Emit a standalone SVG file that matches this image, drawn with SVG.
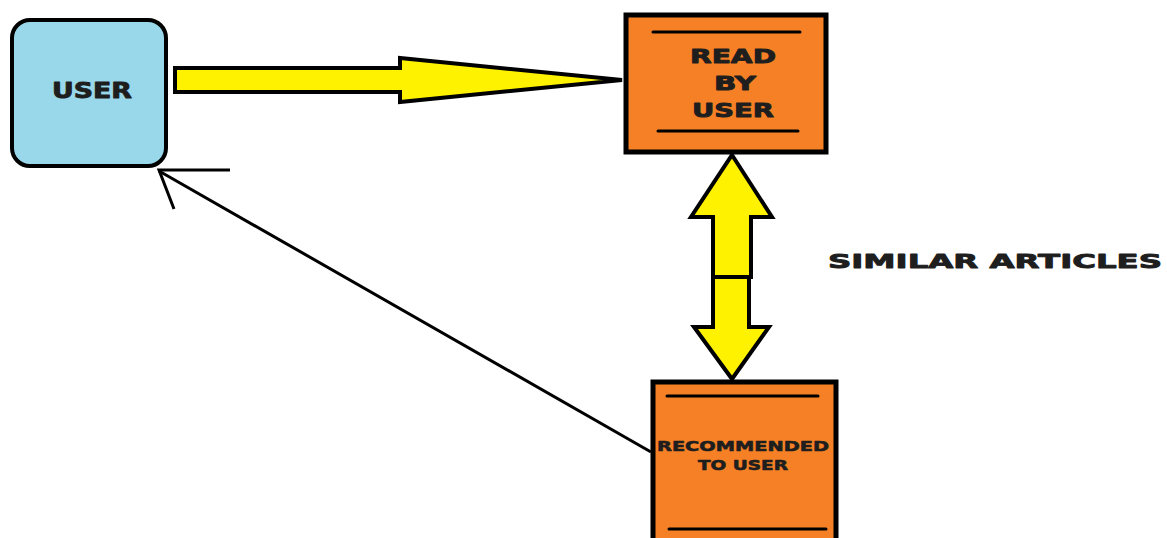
<svg xmlns="http://www.w3.org/2000/svg" width="1167" height="538" viewBox="0 0 1167 538">
<style>
.lbl{font-family:"DejaVu Sans","Liberation Sans",sans-serif;font-weight:bold;fill:#1e1e1e;text-anchor:middle;stroke:#1e1e1e;stroke-width:0.9;stroke-linejoin:round;}
.box{fill:#F58025;stroke:#000;stroke-width:5;}
.bar{stroke:#000;stroke-width:3;stroke-linecap:round;}
.yel{fill:#FFF200;stroke:#000;stroke-width:4;stroke-linejoin:miter;}
</style>
<rect width="1167" height="538" fill="#ffffff"/>
<g id="connectors">
<path class="yel" d="M175,68 L400,68 L400,58 L622,80 L400,102 L400,92 L175,92 Z"/>
<path class="yel" d="M732,155 L772,217 L751,217 L751,277 L713,277 L713,217 L691,217 Z"/>
<path class="yel" d="M713,277 L749,277 L749,327 L769,327 L732,379 L694,327 L713,327 Z"/>
<line x1="651" y1="452" x2="159" y2="171" stroke="#000" stroke-width="3"/>
<polyline points="230,170 159,170 174,209" fill="none" stroke="#000" stroke-width="3"/>
</g>
<g id="user">
<rect x="12" y="20" width="154" height="146" rx="18" ry="18" fill="#98D8EA" stroke="#000" stroke-width="4"/>
<text class="lbl" x="92" y="98" font-size="22" textLength="80" lengthAdjust="spacingAndGlyphs">USER</text>
</g>
<g id="read">
<rect class="box" x="626" y="15" width="200" height="137"/>
<line class="bar" x1="653" y1="32" x2="800" y2="32"/>
<line class="bar" x1="658" y1="131" x2="798" y2="131"/>
<text class="lbl" x="733" y="63" font-size="20" textLength="86" lengthAdjust="spacingAndGlyphs">READ</text>
<text class="lbl" x="735" y="90" font-size="20" textLength="42" lengthAdjust="spacingAndGlyphs">BY</text>
<text class="lbl" x="733" y="117" font-size="20" textLength="82" lengthAdjust="spacingAndGlyphs">USER</text>
</g>
<g id="recommended">
<rect class="box" x="653" y="382" width="183" height="170"/>
<line class="bar" x1="667" y1="396" x2="818" y2="396"/>
<line class="bar" x1="669" y1="529" x2="826" y2="529"/>
<text class="lbl" x="743" y="451" font-size="14" textLength="172" lengthAdjust="spacingAndGlyphs" style="stroke-width:0.6">RECOMMENDED</text>
<text class="lbl" x="743" y="470" font-size="14" textLength="90" lengthAdjust="spacingAndGlyphs" style="stroke-width:0.6">TO USER</text>
</g>
<g id="similar">
<text class="lbl" x="995" y="268" font-size="20" textLength="334" lengthAdjust="spacingAndGlyphs">SIMILAR ARTICLES</text>
</g>
</svg>
